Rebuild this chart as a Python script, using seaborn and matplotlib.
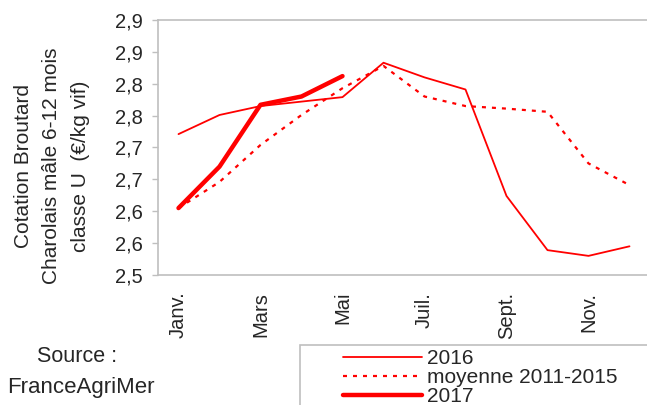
import numpy as np
import pandas as pd
import matplotlib
matplotlib.use("Agg")
import matplotlib.pyplot as plt
import matplotlib.patches as patches
import seaborn as sns

# Données
mois = ['Janv.', 'Févr.', 'Mars', 'Avr.', 'Mai', 'Juin',
        'Juil.', 'Août', 'Sept.', 'Oct.', 'Nov.', 'Déc.']
val_2016 = [2.721, 2.751, 2.765, 2.772, 2.779, 2.833,
            2.810, 2.791, 2.624, 2.539, 2.530, 2.545]
val_moyenne = [2.605, 2.646, 2.704, 2.751, 2.793, 2.828,
               2.780, 2.765, 2.761, 2.756, 2.675, 2.641]
val_2017 = [2.605, 2.670, 2.767, 2.780, 2.812]
y_ticks = [2.50, 2.55, 2.60, 2.65, 2.70, 2.75, 2.80, 2.85, 2.90]
y_tick_labels = ['2,5', '2,6', '2,6', '2,7', '2,7', '2,8', '2,8', '2,9', '2,9']
x_labels_shown = ['Janv.', 'Mars', 'Mai', 'Juil.', 'Sept.', 'Nov.']

df = pd.DataFrame({'mois': np.arange(len(mois)), '2016': val_2016,
                   'moyenne 2011-2015': val_moyenne})
df17 = pd.DataFrame({'mois': np.arange(len(val_2017)), '2017': val_2017})

sns.set_style("white")
plt.rcParams['font.family'] = ['Liberation Sans', 'DejaVu Sans']

W, H = 647, 405
fig = plt.figure(figsize=(W / 100, H / 100), dpi=100)
ax = fig.add_axes([158 / W, 1 - 275 / H, 492 / W, 255 / H])

rouge = '#FF0000'
sns.lineplot(data=df, x='mois', y='2016', color=rouge, lw=1.3, ax=ax, label='2016')
sns.lineplot(data=df, x='mois', y='moyenne 2011-2015', color=rouge, lw=1.6,
             linestyle=(0, (1.8, 2.7)), ax=ax, label='moyenne 2011-2015')
sns.lineplot(data=df17, x='mois', y='2017', color=rouge, lw=3.2, ax=ax, label='2017')

# Axes
ax.set_ylim(2.5, 2.9)
ax.set_yticks(y_ticks)
ax.set_yticklabels(y_tick_labels, fontsize=14.5)
ax.set_xlim(-0.5, 11.5)
ax.set_xticks(np.arange(-0.5, 12, 1))
ax.set_xticklabels([])
pos = [mois.index(m) for m in x_labels_shown]
ax.set_xticks(pos, minor=True)
ax.set_xticklabels(x_labels_shown, minor=True, rotation=90, fontsize=14.5)
ax.tick_params(axis='x', which='major', direction='out', length=5, color='#BFBFBF', width=1)
ax.tick_params(axis='x', which='minor', length=0, pad=12)
ax.tick_params(axis='y', direction='out', length=4, color='#BFBFBF', width=1, pad=7, left=True)
ax.set_xlabel('')
ax.set_ylabel('')
for s in ax.spines.values():
    s.set_color('#BFBFBF')
    s.set_linewidth(1.2)

fig.text(52 / W, 1 - 166 / H,
         'Cotation Broutard\nCharolais mâle 6-12 mois\nclasse U  (€/kg vif)',
         rotation=90, ha='center', va='center', multialignment='center',
         fontsize=15, linespacing=1.6)

fig.text(77 / W, 1 - 357 / H, 'Source :', ha='center', va='center', fontsize=15.5)
fig.text(81 / W, 1 - 387 / H, 'FranceAgriMer', ha='center', va='center', fontsize=16)

# Légende
ax.get_legend().remove()
handles, labels = ax.get_legend_handles_labels()
fig.legend(handles, labels, loc='upper left',
           bbox_to_anchor=(343 / W, 1 - 349 / H), frameon=False,
           fontsize=15, handlelength=3.8, handletextpad=0.25,
           labelspacing=0.0, borderpad=0, borderaxespad=0)
fig.patches.append(patches.Rectangle((300 / W, 1 - 420 / H), 360 / W, 75 / H,
                                     transform=fig.transFigure, fill=False,
                                     edgecolor='#BFBFBF', lw=1.2))

fig.savefig('out.png', dpi=100)
